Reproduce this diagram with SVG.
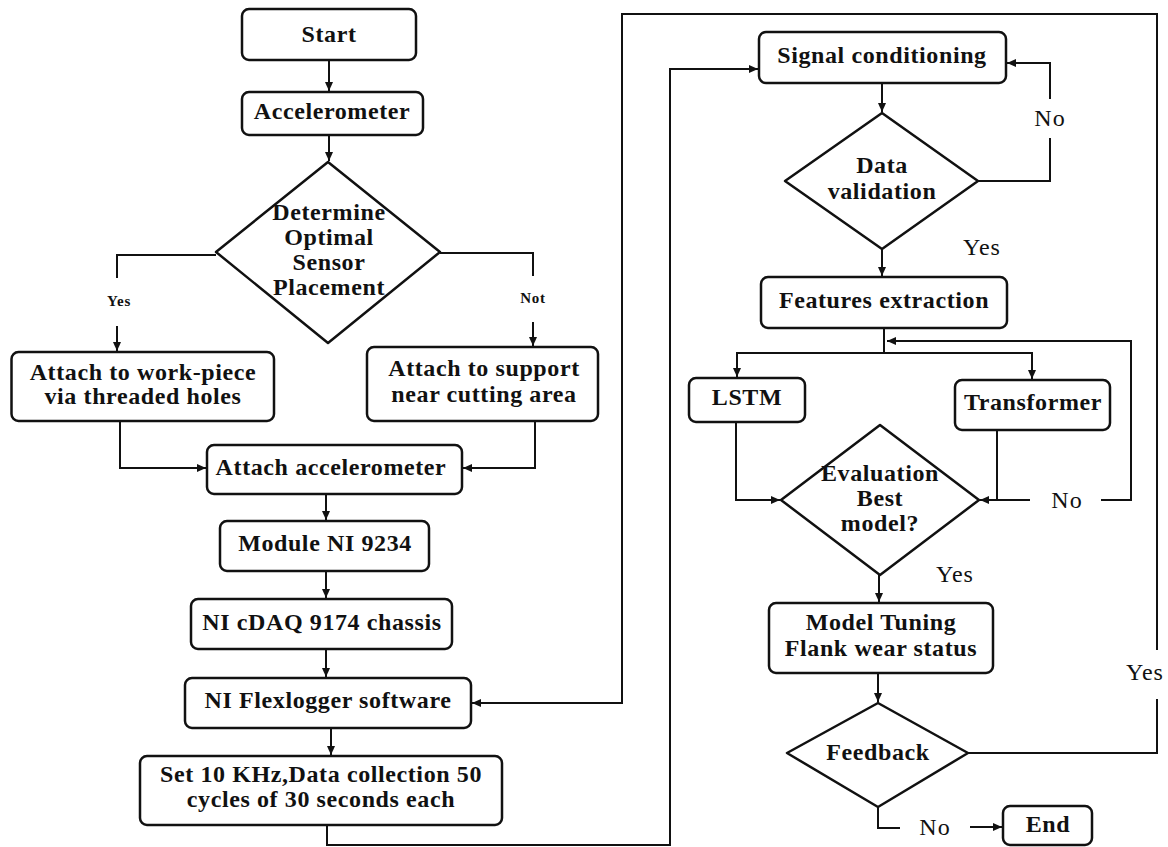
<svg xmlns="http://www.w3.org/2000/svg" width="1168" height="847" viewBox="0 0 1168 847">
<defs>
<style>
.box{fill:#fff;stroke:#111;stroke-width:2.5}
.dia{fill:#fff;stroke:#111;stroke-width:2.5;stroke-linejoin:round}
.ln{fill:none;stroke:#111;stroke-width:2}
.t{font-family:"Liberation Serif","Times New Roman",serif;font-weight:bold;font-size:24px;letter-spacing:0.6px;text-anchor:middle;fill:#111}
.lab{font-family:"Liberation Serif","Times New Roman",serif;font-size:24px;letter-spacing:1px;text-anchor:middle;fill:#111}
.sm{font-family:"Liberation Serif","Times New Roman",serif;font-weight:bold;font-size:15px;letter-spacing:0.8px;text-anchor:middle;fill:#111}
</style>
<marker id="ah" markerWidth="10" markerHeight="10" refX="9" refY="5" orient="auto" markerUnits="userSpaceOnUse"><path d="M0,1 L9,5 L0,9 z" fill="#111"/></marker>
</defs>
<rect width="1168" height="847" fill="#fff"/>

<g id="connectors">
<path class="ln" d="M329,60 V91" marker-end="url(#ah)"/>
<path class="ln" d="M329,135 V161" marker-end="url(#ah)"/>
<path class="ln" d="M216,255 H117 V278"/>
<path class="ln" d="M117,326 V351" marker-end="url(#ah)"/>
<path class="ln" d="M440,253 H533 V276"/>
<path class="ln" d="M533,322 V346" marker-end="url(#ah)"/>
<path class="ln" d="M120,421 V468 H206" marker-end="url(#ah)"/>
<path class="ln" d="M535,421 V468 H463" marker-end="url(#ah)"/>
<path class="ln" d="M326,494 V520" marker-end="url(#ah)"/>
<path class="ln" d="M326,571 V598" marker-end="url(#ah)"/>
<path class="ln" d="M326,649 V677" marker-end="url(#ah)"/>
<path class="ln" d="M331,728 V755" marker-end="url(#ah)"/>
<path class="ln" d="M327,825 V845 H670 V69 H758" marker-end="url(#ah)"/>
<path class="ln" d="M968,753 H1157 V699"/>
<path class="ln" d="M1157,650 V14 H622 V703 H472" marker-end="url(#ah)"/>
<path class="ln" d="M882,83 V112" marker-end="url(#ah)"/>
<path class="ln" d="M978,181 H1050 V138"/>
<path class="ln" d="M1050,99 V63 H1007" marker-end="url(#ah)"/>
<path class="ln" d="M882,249 V276" marker-end="url(#ah)"/>
<path class="ln" d="M884,328 V353"/>
<path class="ln" d="M884,353 H737 V377" marker-end="url(#ah)"/>
<path class="ln" d="M884,353 H1032 V379" marker-end="url(#ah)"/>
<path class="ln" d="M1101,500 H1131 V341 H887" marker-end="url(#ah)"/>
<path class="ln" d="M736,422 V500 H780" marker-end="url(#ah)"/>
<path class="ln" d="M997,430 V500"/>
<path class="ln" d="M1030,500 H980" marker-end="url(#ah)"/>
<path class="ln" d="M879,575 V602" marker-end="url(#ah)"/>
<path class="ln" d="M878,673 V702" marker-end="url(#ah)"/>
<path class="ln" d="M878,807 V828 H900"/>
<path class="ln" d="M970,827 H1002" marker-end="url(#ah)"/>
</g>

<g id="labels">
<text class="sm" x="119" y="306">Yes</text>
<text class="sm" x="533" y="303">Not</text>
<text class="lab" x="1050" y="126">No</text>
<text class="lab" x="982" y="255">Yes</text>
<text class="lab" x="1067" y="508">No</text>
<text class="lab" x="955" y="582">Yes</text>
<text class="lab" x="1145" y="680">Yes</text>
<text class="lab" x="935" y="835">No</text>
</g>

<g id="start"><rect class="box" x="242" y="9" width="174" height="51" rx="7"/><text class="t" x="329" y="42">Start</text></g>
<g id="accelerometer"><rect class="box" x="242" y="92" width="181" height="43" rx="7"/><text class="t" x="332" y="119">Accelerometer</text></g>
<g id="placement"><polygon class="dia" points="328,162 440,252 328,343 216,252"/>
<text class="t" x="329" y="220">Determine</text><text class="t" x="329" y="245">Optimal</text><text class="t" x="329" y="270">Sensor</text><text class="t" x="329" y="295">Placement</text></g>
<g id="workpiece"><rect class="box" x="11.5" y="352" width="262.5" height="69" rx="7"/><text class="t" x="143" y="380">Attach to work-piece</text><text class="t" x="143" y="404">via threaded holes</text></g>
<g id="support"><rect class="box" x="367" y="347" width="231" height="74" rx="7"/><text class="t" x="484" y="376">Attach to support</text><text class="t" x="484" y="402">near cutting area</text></g>
<g id="attach"><rect class="box" x="207" y="445" width="255" height="49" rx="7"/><text class="t" x="331" y="475">Attach accelerometer</text></g>
<g id="module"><rect class="box" x="220" y="521" width="209" height="50" rx="7"/><text class="t" x="325" y="551">Module NI 9234</text></g>
<g id="cdaq"><rect class="box" x="191" y="599" width="261" height="50" rx="7"/><text class="t" x="322" y="630">NI cDAQ 9174 chassis</text></g>
<g id="flexlogger"><rect class="box" x="185" y="678" width="286" height="50" rx="7"/><text class="t" x="328" y="708">NI Flexlogger software</text></g>
<g id="setup"><rect class="box" x="140" y="756" width="362" height="69" rx="7"/><text class="t" x="321" y="782">Set 10 KHz,Data collection 50</text><text class="t" x="321" y="807">cycles of 30 seconds each</text></g>

<g id="signal"><rect class="box" x="759" y="32" width="247" height="51" rx="7"/><text class="t" x="882" y="63">Signal conditioning</text></g>
<g id="validation"><polygon class="dia" points="882,113 978,181 882,249 785,181"/><text class="t" x="882" y="173">Data</text><text class="t" x="882" y="199">validation</text></g>
<g id="features"><rect class="box" x="761" y="277" width="246" height="51" rx="7"/><text class="t" x="884" y="308">Features extraction</text></g>
<g id="lstm"><rect class="box" x="689" y="378" width="116" height="44" rx="7"/><text class="t" x="747" y="405">LSTM</text></g>
<g id="transformer"><rect class="box" x="955" y="380" width="155" height="50" rx="7"/><text class="t" x="1033" y="410">Transformer</text></g>
<g id="evaluation"><polygon class="dia" points="880,425 979,500 880,575 781,500"/><text class="t" x="880" y="481">Evaluation</text><text class="t" x="880" y="506">Best</text><text class="t" x="880" y="531">model?</text></g>
<g id="tuning"><rect class="box" x="769" y="603" width="224" height="70" rx="7"/><text class="t" x="881" y="630">Model Tuning</text><text class="t" x="881" y="656">Flank wear status</text></g>
<g id="feedback"><polygon class="dia" points="878,703 968,753 878,807 787,753"/><text class="t" x="878" y="760">Feedback</text></g>
<g id="end"><rect class="box" x="1003" y="806" width="89" height="39" rx="7"/><text class="t" x="1048" y="832">End</text></g>
</svg>
